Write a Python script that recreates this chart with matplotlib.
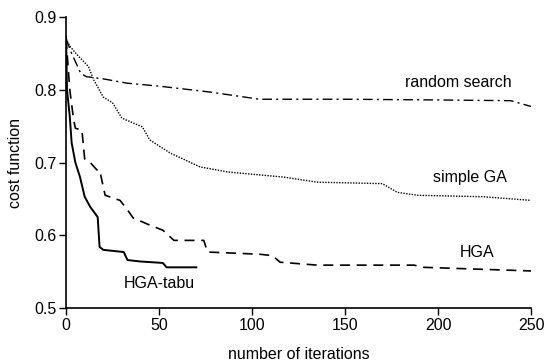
import matplotlib
matplotlib.use("Agg")
from matplotlib import pyplot as plt

plt.rcParams['font.family'] = ['Liberation Sans', 'DejaVu Sans']

# random search (dash-dot)
rs_x = [0, 3, 8, 11, 20, 33, 50, 77, 104, 150, 200, 239, 250]
rs_y = [0.87, 0.85, 0.822, 0.818, 0.815, 0.809, 0.805, 0.797, 0.787, 0.787, 0.786, 0.785, 0.777]

# simple GA (dotted)
sga_x = [0, 2, 6, 12, 15, 20, 25, 30, 41, 45, 56, 72, 87, 104, 117, 135, 170, 178, 189, 224, 250]
sga_y = [0.87, 0.86, 0.848, 0.832, 0.813, 0.79, 0.782, 0.761, 0.749, 0.731, 0.713, 0.694,
         0.687, 0.683, 0.68, 0.673, 0.671, 0.659, 0.655, 0.653, 0.648]

# HGA (dashed)
hga_x = [0, 2, 4, 5, 8.5, 10, 13, 16.5, 18, 21, 29, 33, 36, 45, 52, 58, 74, 76, 104, 111, 115,
         135, 187, 192, 250]
hga_y = [0.87, 0.80, 0.76, 0.747, 0.745, 0.705, 0.70, 0.69, 0.69, 0.655, 0.648, 0.635, 0.624,
         0.614, 0.607, 0.593, 0.593, 0.577, 0.574, 0.572, 0.563, 0.559, 0.559, 0.556, 0.551]

# HGA-tabu (solid)
tabu_x = [0, 0.5, 2, 3, 5, 7.5, 10, 13, 17, 18, 20, 31, 33, 40, 52, 54, 70]
tabu_y = [0.873, 0.80, 0.763, 0.727, 0.70, 0.68, 0.653, 0.639, 0.625, 0.584, 0.58, 0.577,
          0.566, 0.564, 0.562, 0.556, 0.556]

fig = plt.figure(figsize=(5.46, 3.62), dpi=100)
ax = fig.add_axes([0.121, 0.149, 0.852, 0.804])

ax.plot(rs_x, rs_y, color='black', lw=1.0, linestyle=(0, (7, 3, 1.5, 3)))
ax.plot(sga_x, sga_y, color='black', lw=1.0, linestyle=(0, (1, 1)))
ax.plot(hga_x, hga_y, color='black', lw=1.2, linestyle=(0, (6, 4)))
ax.plot(tabu_x, tabu_y, color='black', lw=1.4)

fs = 11.5
ax.text(211, 0.81, 'random search', fontsize=fs, ha='center', va='center')
ax.text(217, 0.679, 'simple GA', fontsize=fs, ha='center', va='center')
ax.text(221, 0.577, 'HGA', fontsize=fs, ha='center', va='center')
ax.text(50, 0.534, 'HGA-tabu', fontsize=fs, ha='center', va='center')

ax.set_xlim(0, 250)
ax.set_ylim(0.5, 0.9)
ax.set_xticks([0, 50, 100, 150, 200, 250])
ax.set_yticks([0.5, 0.6, 0.7, 0.8, 0.9])
ax.set_yticklabels(['0.5', '0.6', '0.7', '0.8', '0.9'])
ax.tick_params(direction='out', length=5, width=1, labelsize=fs, pad=2)
ax.spines['top'].set_visible(False)
ax.spines['right'].set_visible(False)
ax.spines['left'].set_linewidth(1.2)
ax.spines['bottom'].set_linewidth(1.2)
ax.set_xlabel('number of iterations', fontsize=fs, labelpad=10)
ax.set_ylabel('cost function', fontsize=fs, labelpad=8)

fig.savefig('out.png', dpi=100)
